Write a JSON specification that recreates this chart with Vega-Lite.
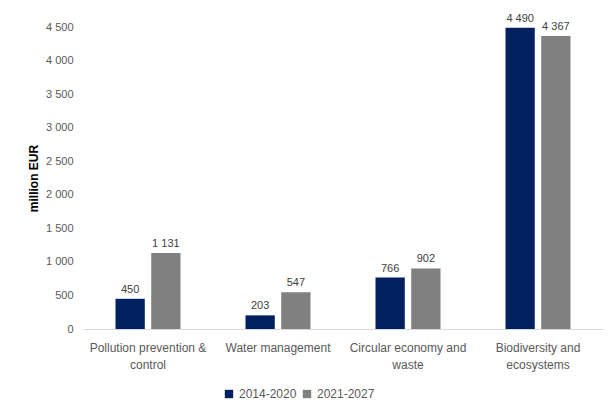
{
  "$schema": "https://vega.github.io/schema/vega-lite/v6.json",
  "width": 520,
  "height": 302,
  "autosize": {"type": "none"},
  "padding": {"left": 83, "top": 27, "right": 9, "bottom": 85},
  "background": "white",
  "config": {
    "font": "Liberation Sans",
    "view": {"stroke": null},
    "locale": {"number": {"decimal": ".", "thousands": " ", "grouping": [3], "currency": ["", ""]}}
  },
  "data": {
    "values": [
      {"category": "Pollution prevention & control", "period": "2014-2020", "value": 450},
      {"category": "Pollution prevention & control", "period": "2021-2027", "value": 1131},
      {"category": "Water management", "period": "2014-2020", "value": 203},
      {"category": "Water management", "period": "2021-2027", "value": 547},
      {"category": "Circular economy and waste", "period": "2014-2020", "value": 766},
      {"category": "Circular economy and waste", "period": "2021-2027", "value": 902},
      {"category": "Biodiversity and ecosystems", "period": "2014-2020", "value": 4490},
      {"category": "Biodiversity and ecosystems", "period": "2021-2027", "value": 4367}
    ]
  },
  "encoding": {
    "x": {
      "field": "category", "type": "nominal", "sort": null,
      "scale": {"paddingInner": 0.5, "paddingOuter": 0.25},
      "axis": {
        "title": null, "labelAngle": 0, "ticks": false, "domainColor": "#d9d9d9",
        "labelColor": "#595959", "labelFontSize": 12, "labelPadding": 13, "labelLineHeight": 17,
        "labelExpr": "datum.value == 'Pollution prevention & control' ? ['Pollution prevention &', 'control'] : datum.value == 'Circular economy and waste' ? ['Circular economy and', 'waste'] : datum.value == 'Biodiversity and ecosystems' ? ['Biodiversity and', 'ecosystems'] : datum.value"
      }
    },
    "xOffset": {"field": "period", "type": "nominal", "scale": {"paddingInner": 0.18, "paddingOuter": 0}},
    "y": {
      "field": "value", "type": "quantitative",
      "scale": {"domain": [0, 4500], "nice": false},
      "axis": {
        "title": "million EUR", "titleFontWeight": "bold", "titleColor": "black", "titleFontSize": 12,
        "titlePadding": 5, "grid": false, "domain": false, "ticks": false,
        "labelColor": "#595959", "labelFontSize": 11, "labelPadding": 10,
        "values": [0, 500, 1000, 1500, 2000, 2500, 3000, 3500, 4000, 4500], "format": ",.0f"
      }
    }
  },
  "layer": [
    {
      "mark": {"type": "bar"},
      "encoding": {
        "color": {
          "field": "period", "type": "nominal",
          "scale": {"domain": ["2014-2020", "2021-2027"], "range": ["#002060", "#808080"]},
          "legend": {
            "title": null, "orient": "none", "legendX": 140, "legendY": 361, "direction": "horizontal", "symbolType": "square",
            "symbolSize": 70, "labelFontSize": 12, "labelColor": "#595959", "columnPadding": 4
          }
        }
      }
    },
    {
      "mark": {"type": "text", "dy": -9, "fontSize": 11},
      "encoding": {
        "text": {"field": "value", "type": "quantitative", "format": ",.0f"},
        "color": {"value": "#404040"}
      }
    }
  ]
}
